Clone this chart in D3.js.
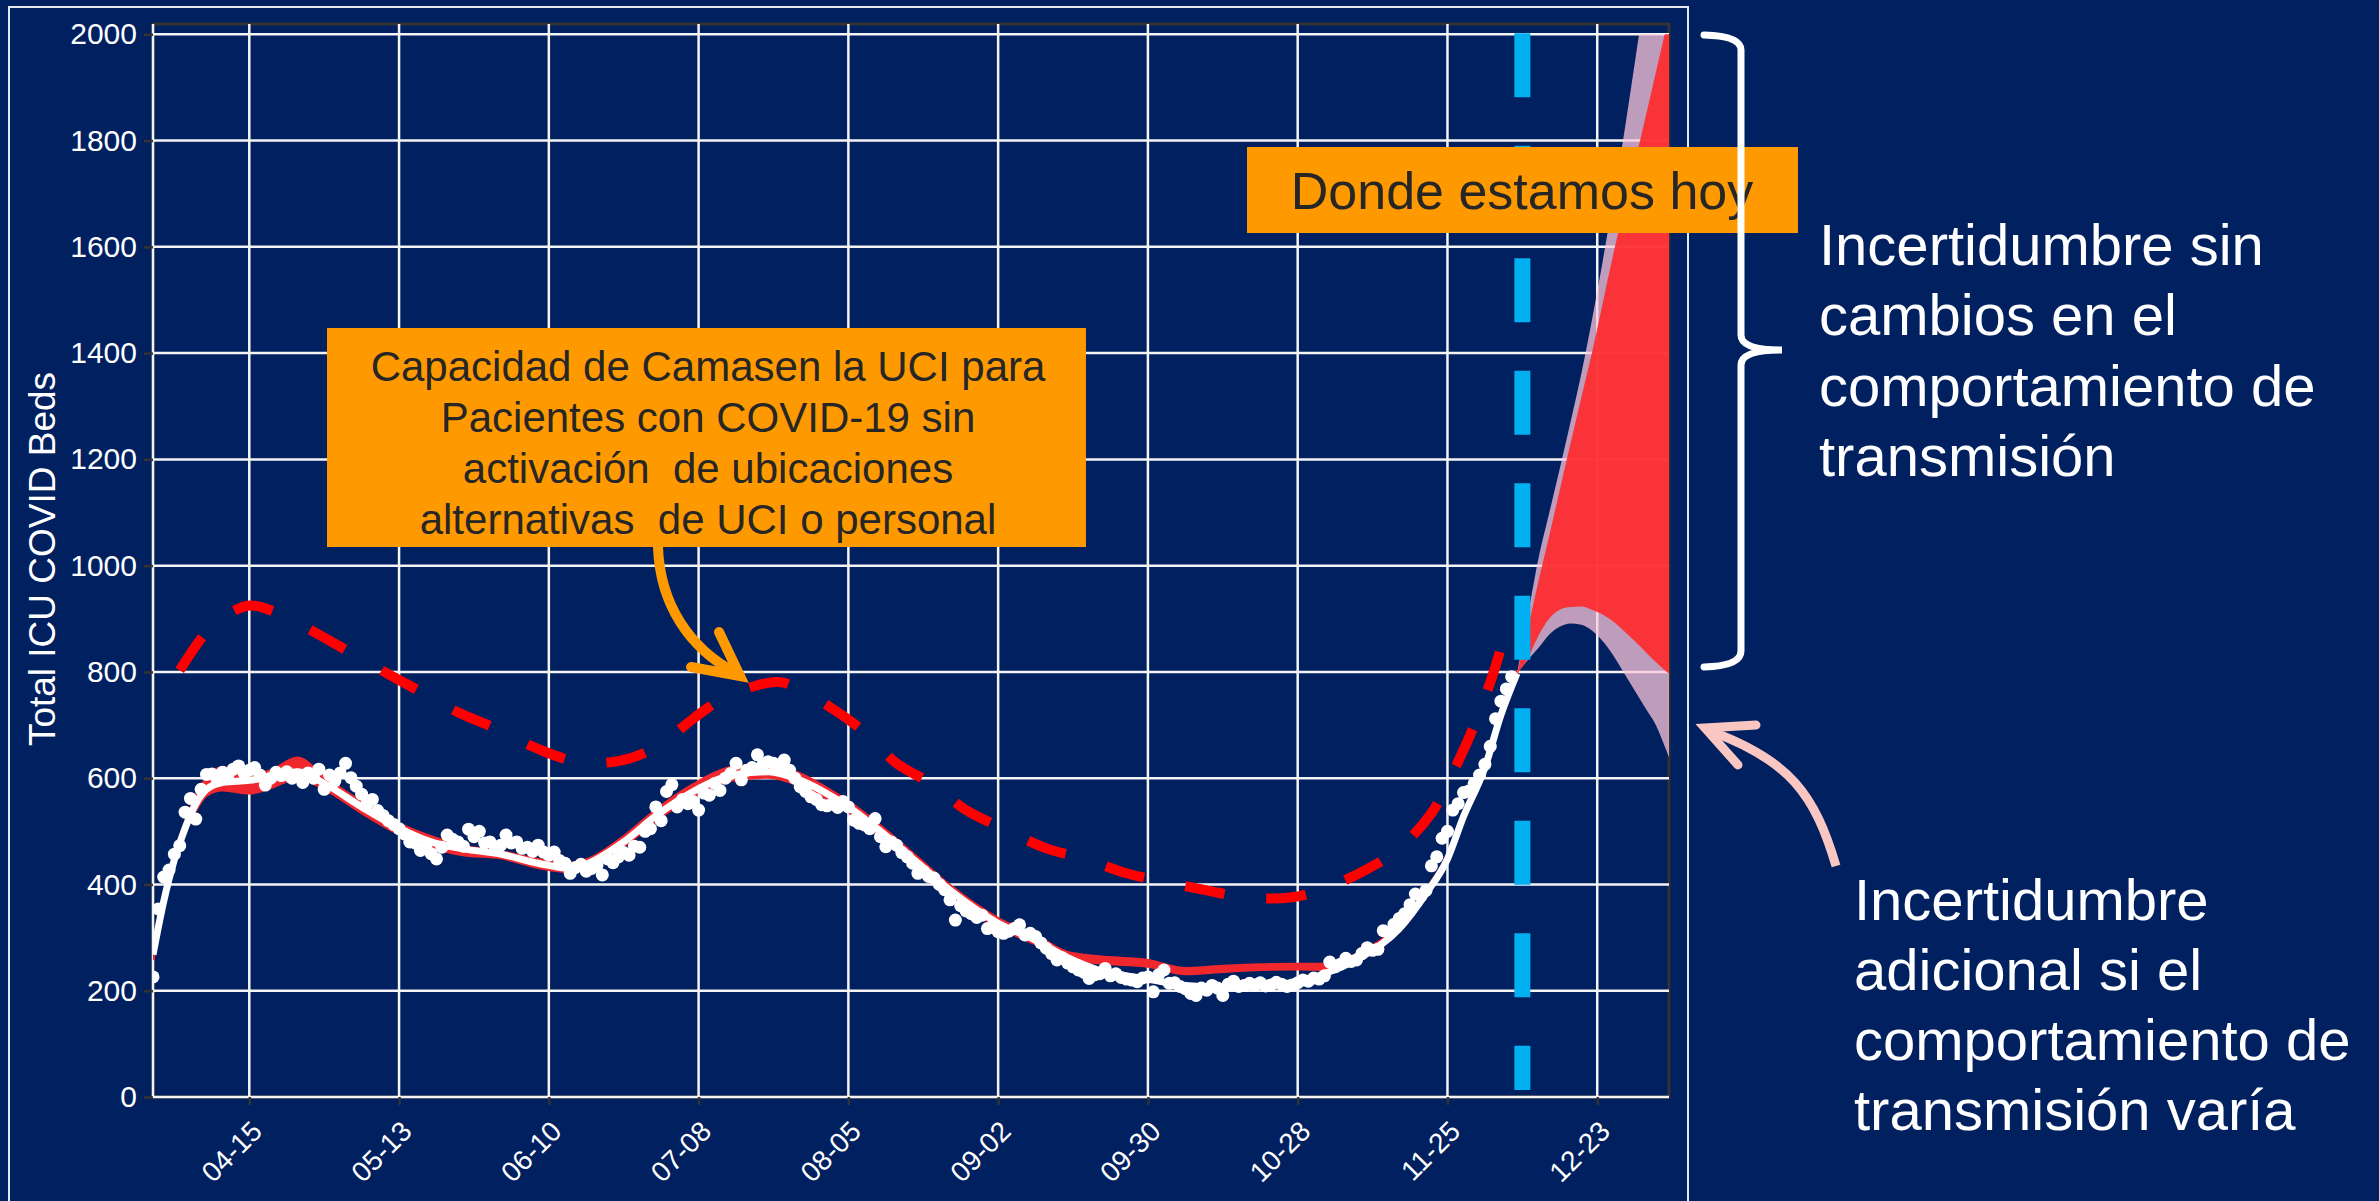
<!DOCTYPE html>
<html>
<head>
<meta charset="utf-8">
<script src="https://cdn.jsdelivr.net/npm/d3@7"></script>
<style>
  body { margin: 0; background: #002060; }
  svg { display: block; font-family: "Liberation Sans", Arial, sans-serif; }
</style>
</head>
<body>
<div id="wrapper"></div>
<script>
// ---- data ----
const xTickDates = ["2020-04-15", "2020-05-13", "2020-06-10", "2020-07-08", "2020-08-05",
  "2020-09-02", "2020-09-30", "2020-10-28", "2020-11-25", "2020-12-23"]
const yTicks = [0, 200, 400, 600, 800, 1000, 1200, 1400, 1600, 1800, 2000]

// daily observed ICU beds, one value per day from observedStart
const observedStart = "2020-03-28"
const observed = [
  // Mar 28-31
  226, 354, 414, 427,
  // Apr
  457, 473, 536, 562, 523, 579, 607, 608, 598, 611, 605, 617, 623, 610, 615,
  620, 606, 587, 600, 611, 605, 612, 600, 606, 592, 610, 600, 617, 579, 606,
  // May
  595, 610, 628, 601, 585, 570, 552, 560, 539, 530, 520, 513, 505, 495, 480, 478,
  464, 470, 458, 448, 470, 493, 485, 480, 472, 504, 490, 500, 478, 480, 470,
  // Jun
  474, 493, 478, 480, 468, 470, 462, 474, 461, 455, 461, 445, 440, 421, 432,
  438, 425, 430, 436, 418, 448, 441, 452, 460, 455, 472, 470, 500, 505, 546,
  // Jul
  520, 575, 588, 546, 560, 552, 556, 540, 572, 568, 590, 577, 600, 609, 628, 597,
  615, 620, 644, 625, 631, 628, 620, 634, 615, 600, 584, 575, 565, 560, 550,
  // Aug
  548, 552, 545, 556, 546, 521, 515, 512, 505, 524, 490, 471, 480, 474, 460, 452,
  440, 421, 425, 415, 412, 400, 390, 371, 333, 360, 350, 345, 338, 342, 317,
  // Sep
  322, 311, 308, 312, 317, 324, 305, 308, 302, 290, 280, 270, 258, 262, 252,
  245, 239, 235, 223, 230, 232, 242, 228, 232, 225, 222, 220, 217, 224, 226,
  // Oct
  198, 230, 239, 214, 215, 208, 204, 195, 191, 205, 201, 210, 205, 191, 212, 218,
  208, 210, 214, 211, 215, 209, 211, 216, 212, 208, 211, 215, 220, 218, 224,
  // Nov
  222, 228, 254, 245, 250, 261, 255, 258, 270, 281, 276, 278, 313, 310, 325,
  336, 345, 362, 382, 378, 389, 435, 452, 487, 500, 540, 552, 573, 576, 590,
  // Dec 1-7
  606, 626, 660, 712, 745, 768, 791,
]

// smoothed fit (white line) and its red ribbon
const fitDates = ["2020-03-28", "2020-03-30", "2020-04-01", "2020-04-03", "2020-04-05",
  "2020-04-07", "2020-04-10", "2020-04-15", "2020-04-19", "2020-04-24", "2020-04-29",
  "2020-05-06", "2020-05-13", "2020-05-19", "2020-05-25", "2020-06-01", "2020-06-08",
  "2020-06-14", "2020-06-17", "2020-06-24", "2020-06-30", "2020-07-07", "2020-07-14",
  "2020-07-21", "2020-07-27", "2020-08-02", "2020-08-05", "2020-08-11", "2020-08-18",
  "2020-08-24", "2020-09-02", "2020-09-09", "2020-09-15", "2020-09-21", "2020-09-30",
  "2020-10-07", "2020-10-14", "2020-10-21", "2020-10-28", "2020-11-02", "2020-11-09",
  "2020-11-16", "2020-11-21", "2020-11-25", "2020-11-28", "2020-12-02", "2020-12-05",
  "2020-12-08"]
const fitValues = [268, 368, 447, 506, 552, 579, 592, 596, 602, 612, 590, 546, 506, 480,
  467, 457, 440, 430, 438, 480, 529, 575, 605, 612, 596, 565, 546, 500, 440, 389, 327,
  295, 262, 238, 222, 210, 207, 211, 216, 232, 264, 317, 383, 448, 528, 620, 719, 797]
const fitLow = [258, 360, 440, 498, 540, 568, 578, 572, 582, 600, 580, 535, 495, 470,
  456, 450, 432, 424, 432, 472, 520, 566, 596, 602, 586, 556, 537, 492, 432, 381, 320,
  288, 260, 252, 246, 232, 236, 240, 241, 240, 262, 312, 378, 442, 522, 614, 714, 792]
const fitHigh = [278, 376, 456, 516, 566, 600, 620, 606, 614, 638, 602, 555, 514, 490,
  472, 462, 447, 440, 446, 490, 540, 588, 620, 626, 608, 575, 556, 510, 450, 398, 336,
  304, 272, 264, 257, 242, 246, 249, 250, 250, 274, 324, 390, 455, 535, 628, 726, 802]

// ICU capacity without alternative sites (red dashed)
const capacityDates = ["2020-04-02", "2020-04-05", "2020-04-07", "2020-04-10", "2020-04-15",
  "2020-04-20", "2020-04-27", "2020-05-04", "2020-05-11", "2020-05-17", "2020-05-24",
  "2020-05-31", "2020-06-08", "2020-06-15", "2020-06-23", "2020-06-30", "2020-07-07",
  "2020-07-12", "2020-07-19", "2020-07-23", "2020-07-26", "2020-08-02", "2020-08-08",
  "2020-08-14", "2020-08-21", "2020-08-27", "2020-09-03", "2020-09-11", "2020-09-18",
  "2020-09-26", "2020-10-03", "2020-10-11", "2020-10-18", "2020-10-27", "2020-11-02",
  "2020-11-10", "2020-11-16", "2020-11-22", "2020-11-25", "2020-11-30", "2020-12-04",
  "2020-12-06"]
const capacityValues = [803, 849, 875, 902, 925, 912, 876, 836, 796, 763, 724, 694, 655,
  632, 632, 658, 712, 747, 775, 781, 772, 731, 687, 628, 587, 540, 505, 468, 449, 421,
  405, 389, 376, 376, 392, 429, 468, 534, 590, 699, 811, 884]

// projection bands
const projDates = ["2020-12-08", "2020-12-10", "2020-12-12", "2020-12-14", "2020-12-16",
  "2020-12-18", "2020-12-20", "2020-12-22", "2020-12-24", "2020-12-26", "2020-12-28",
  "2020-12-30", "2021-01-01", "2021-01-03", "2021-01-05", "2021-01-06"]
const projLow = [797, 825, 868, 900, 917, 922, 923, 917, 908, 895, 877, 858, 838, 818, 800, 793]
const projHigh = [797, 880, 970, 1055, 1143, 1230, 1315, 1400, 1493, 1586, 1672, 1757,
  1843, 1930, 2017, 2060]
const wideLow = [797, 822, 845, 870, 885, 891, 889, 878, 858, 831, 798, 765, 732, 699, 650, 625]
const wideHigh = [797, 905, 1013, 1098, 1183, 1270, 1360, 1462, 1572, 1690, 1812, 1945,
  2080, 2215, 2350, 2420]

const todayDate = "2020-12-09"

// ---- chart ----
const parseDate = d3.utcParse("%Y-%m-%d")

const dimensions = {
  width: 2379,
  height: 1201,
  margins: { top: 24, right: 710, bottom: 104, left: 153 },
}
dimensions.boundedWidth =
  dimensions.width - dimensions.margins.left - dimensions.margins.right
dimensions.boundedHeight =
  dimensions.height - dimensions.margins.top - dimensions.margins.bottom

const svg = d3.select("#wrapper")
  .append("svg")
  .attr("width", dimensions.width)
  .attr("height", dimensions.height)

svg.append("rect")
  .attr("width", dimensions.width)
  .attr("height", dimensions.height)
  .attr("fill", "#002060")

// thin slide frame
svg.append("rect")
  .attr("x", 9).attr("y", 7)
  .attr("width", 1679).attr("height", 1220)
  .attr("fill", "none")
  .attr("stroke", "#e6e6ee")
  .attr("stroke-width", 2)

const bounds = svg.append("g")
  .attr("transform", `translate(${dimensions.margins.left},${dimensions.margins.top})`)

const xScale = d3.scaleUtc()
  .domain([new Date(Date.UTC(2020, 2, 28)), new Date(Date.UTC(2021, 0, 5, 10))])
  .range([0, dimensions.boundedWidth])

const yScale = d3.scaleLinear()
  .domain([0, 2000])
  .range([dimensions.boundedHeight, 10.3])

// panel border
bounds.append("rect")
  .attr("width", dimensions.boundedWidth)
  .attr("height", dimensions.boundedHeight)
  .attr("fill", "none")
  .attr("stroke", "#333")
  .attr("stroke-width", 3)

// grid
const grid = bounds.append("g").attr("stroke", "#f4f4f4").attr("stroke-width", 2.5)
grid.selectAll(".hgrid").data(yTicks).join("line")
  .attr("x1", 0).attr("x2", dimensions.boundedWidth)
  .attr("y1", d => yScale(d)).attr("y2", d => yScale(d))
grid.selectAll(".vgrid").data(xTickDates).join("line")
  .attr("x1", d => xScale(parseDate(d))).attr("x2", d => xScale(parseDate(d)))
  .attr("y1", 0).attr("y2", dimensions.boundedHeight)
grid.append("line")
  .attr("x1", 0).attr("x2", 0).attr("y1", 0).attr("y2", dimensions.boundedHeight)

// axes
const yAxisGenerator = d3.axisLeft(yScale)
  .tickValues(yTicks)
  .tickFormat(d3.format("d"))
  .tickSize(9)
  .tickPadding(7)
const yAxis = bounds.append("g").call(yAxisGenerator)
yAxis.select(".domain").remove()
yAxis.selectAll(".tick line").attr("stroke", "#333").attr("stroke-width", 2.5)
yAxis.selectAll(".tick text")
  .attr("fill", "#ffffff")
  .style("font-size", "30px")
  .style("font-family", "Liberation Sans, Arial, sans-serif")

const xAxisGenerator = d3.axisBottom(xScale)
  .tickValues(xTickDates.map(parseDate))
  .tickFormat(d3.utcFormat("%m-%d"))
  .tickSize(8)
const xAxis = bounds.append("g")
  .attr("transform", `translate(0,${dimensions.boundedHeight})`)
  .call(xAxisGenerator)
xAxis.select(".domain").remove()
xAxis.selectAll(".tick line").attr("stroke", "#333").attr("stroke-width", 2.5)
xAxis.selectAll(".tick text")
  .attr("fill", "#ffffff")
  .attr("x", null).attr("y", null).attr("dy", null)
  .attr("text-anchor", "end")
  .attr("transform", "translate(14,36) rotate(-45)")
  .style("font-size", "28px")
  .style("font-family", "Liberation Sans, Arial, sans-serif")

svg.append("text")
  .attr("transform", "translate(55,559) rotate(-90)")
  .attr("text-anchor", "middle")
  .attr("fill", "#ffffff")
  .style("font-size", "37px")
  .text("Total ICU COVID Beds")

// clip to panel (values above 2000 are cut off)
bounds.append("defs").append("clipPath").attr("id", "panel-clip")
  .append("rect")
  .attr("y", yScale(2000))
  .attr("width", dimensions.boundedWidth)
  .attr("height", dimensions.boundedHeight - yScale(2000))
const plot = bounds.append("g").attr("clip-path", "url(#panel-clip)")

const curve = d3.curveMonotoneX

// fit ribbon
const ribbon = fitDates.map((d, i) => ({ date: parseDate(d), lo: fitLow[i], hi: fitHigh[i] }))
plot.append("path")
  .attr("d", d3.area().curve(curve)
    .x(d => xScale(d.date)).y0(d => yScale(d.lo)).y1(d => yScale(d.hi))(ribbon))
  .attr("fill", "#f0282e")
  .attr("stroke", "#f0282e")
  .attr("stroke-width", 3)

// projection: additional uncertainty then base uncertainty
const proj = projDates.map((d, i) => ({
  date: parseDate(d), lo: projLow[i], hi: projHigh[i], wlo: wideLow[i], whi: wideHigh[i],
}))
plot.append("path")
  .attr("d", d3.area().curve(curve)
    .x(d => xScale(d.date)).y0(d => yScale(d.wlo)).y1(d => yScale(d.whi))(proj))
  .attr("fill", "#ffc8dc")
  .attr("fill-opacity", 0.74)
plot.append("path")
  .attr("d", d3.area().curve(curve)
    .x(d => xScale(d.date)).y0(d => yScale(d.lo)).y1(d => yScale(d.hi))(proj))
  .attr("fill", "#ff2a2e")
  .attr("fill-opacity", 0.92)

// white fit line
const fit = fitDates.map((d, i) => ({ date: parseDate(d), value: fitValues[i] }))
plot.append("path")
  .attr("d", d3.line().curve(curve).x(d => xScale(d.date)).y(d => yScale(d.value))(fit))
  .attr("fill", "none")
  .attr("stroke", "#ffffff")
  .attr("stroke-width", 7)

// observed points
const start = parseDate(observedStart)
const points = observed.map((v, i) => ({ date: d3.utcDay.offset(start, i), value: v }))
plot.append("g").selectAll("circle").data(points).join("circle")
  .attr("cx", d => xScale(d.date))
  .attr("cy", d => yScale(d.value))
  .attr("r", 6.5)
  .attr("fill", "#ffffff")

// capacity dashed line
const capacity = capacityDates.map((d, i) => ({ date: parseDate(d), value: capacityValues[i] }))
plot.append("path")
  .attr("d", d3.line().curve(d3.curveCatmullRom).x(d => xScale(d.date)).y(d => yScale(d.value))(capacity))
  .attr("fill", "none")
  .attr("stroke", "#ff0000")
  .attr("stroke-width", 10)
  .attr("stroke-dasharray", "40 42")

// today line
const todayX = xScale(parseDate(todayDate))
bounds.append("line")
  .attr("x1", todayX).attr("x2", todayX)
  .attr("y1", yScale(2000) - 1).attr("y2", yScale(0) - 7)
  .attr("stroke", "#00b0f0")
  .attr("stroke-width", 16)
  .attr("stroke-dasharray", "64 48.5")

// ---- annotations ----
const note = svg.append("g")

note.append("path")
  .attr("d", "M658,547 C660,605 690,648 734,672")
  .attr("fill", "none").attr("stroke", "#ff9900").attr("stroke-width", 10)
  .attr("stroke-linecap", "round")
note.append("path")
  .attr("d", "M719,632 L740,676 L691,667")
  .attr("fill", "none").attr("stroke", "#ff9900").attr("stroke-width", 10)
  .attr("stroke-linecap", "round").attr("stroke-linejoin", "miter")

note.append("rect")
  .attr("x", 327).attr("y", 328).attr("width", 759).attr("height", 219)
  .attr("fill", "#ff9900")
const boxLines = ["Capacidad de Camasen la UCI para", "Pacientes con COVID-19 sin",
  "activación  de ubicaciones", "alternativas  de UCI o personal"]
note.selectAll(".boxline").data(boxLines).join("text")
  .attr("x", 708)
  .attr("y", (d, i) => 381 + i * 51)
  .attr("text-anchor", "middle")
  .attr("fill", "#262626")
  .style("font-size", "42px")
  .style("white-space", "pre")
  .text(d => d)

note.append("rect")
  .attr("x", 1247).attr("y", 147).attr("width", 551).attr("height", 86)
  .attr("fill", "#ff9900")
note.append("text")
  .attr("x", 1522).attr("y", 209)
  .attr("text-anchor", "middle")
  .attr("fill", "#262626")
  .style("font-size", "52px")
  .text("Donde estamos hoy")

// bracket
note.append("path")
  .attr("d", "M1704,35 Q1741,36 1741,50 L1741,335 Q1741,350 1782,350 Q1741,350 1741,365 L1741,651 Q1741,666 1704,667")
  .attr("fill", "none").attr("stroke", "#ffffff").attr("stroke-width", 7)
  .attr("stroke-linecap", "round")

const upperLines = ["Incertidumbre sin", "cambios en el", "comportamiento de", "transmisión"]
note.selectAll(".upper").data(upperLines).join("text")
  .attr("x", 1819)
  .attr("y", (d, i) => 265 + i * 70.3)
  .attr("fill", "#ffffff")
  .style("font-size", "58px")
  .text(d => d)

// pink arrow
note.append("path")
  .attr("d", "M1836,866 C1815,795 1790,760 1710,731")
  .attr("fill", "none").attr("stroke", "#f9c6c2").attr("stroke-width", 9)
  .attr("stroke-linecap", "butt")
note.append("path")
  .attr("d", "M1738,765 L1705,728 L1756,725")
  .attr("fill", "none").attr("stroke", "#f9c6c2").attr("stroke-width", 9)
  .attr("stroke-linecap", "round")

const lowerLines = ["Incertidumbre", "adicional si el", "comportamiento de", "transmisión varía"]
note.selectAll(".lower").data(lowerLines).join("text")
  .attr("x", 1854)
  .attr("y", (d, i) => 920 + i * 70)
  .attr("fill", "#ffffff")
  .style("font-size", "58px")
  .text(d => d)
</script>
</body>
</html>
